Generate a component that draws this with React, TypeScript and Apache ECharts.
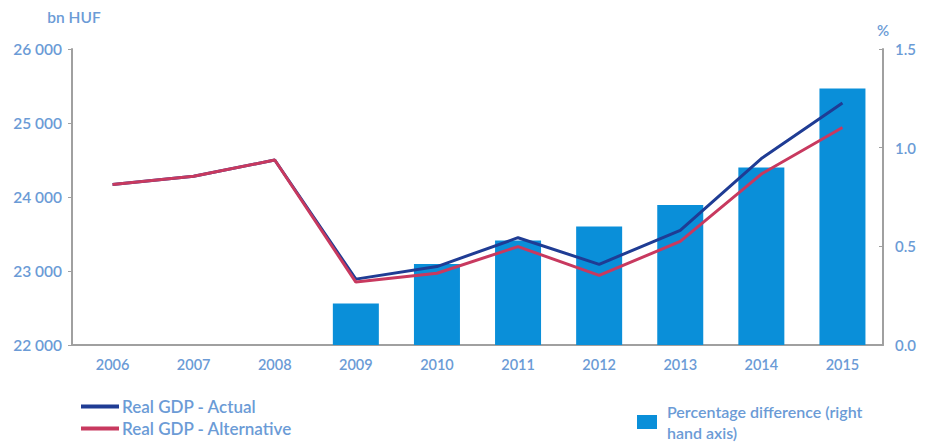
import React, { useEffect, useRef } from "react";
import * as echarts from "echarts";

const years = ["2006", "2007", "2008", "2009", "2010", "2011", "2012", "2013", "2014", "2015"];
const actual = [24170, 24280, 24500, 22890, 23060, 23450, 23090, 23550, 24520, 25270];
const alternative = [24170, 24280, 24500, 22850, 22970, 23330, 22940, 23400, 24310, 24940];
const pctDiff = [null, null, null, 0.21, 0.41, 0.53, 0.6, 0.71, 0.9, 1.3];
const leftTicks = [22000, 23000, 24000, 25000, 26000];

const TXT = "#6b9bd6";
const FONT = "Lato";

export default function App() {
  const ref = useRef<HTMLDivElement>(null);
  useEffect(() => {
    document.body.style.margin = "0";
    const chart = echarts.init(ref.current!, null, { renderer: "svg" });
    chart.setOption({
      animation: false,
      textStyle: { fontFamily: FONT },
      grid: { left: 72, right: 46, top: 49, bottom: 100 },
      legend: [
        {
          data: ["Real GDP - Actual", "Real GDP - Alternative"],
          orient: "vertical",
          left: 76,
          top: 393,
          itemWidth: 38,
          itemHeight: 4,
          itemGap: 5,
          icon: "rect",
          textStyle: { color: TXT, fontSize: 17, fontWeight: 600, fontFamily: FONT, padding: [0, 0, 0, -2] },
        },
        {
          data: ["Percentage difference (right\nhand axis)"],
          left: 632,
          top: 396,
          itemWidth: 20,
          itemHeight: 14,
          icon: "rect",
          textStyle: { color: TXT, fontSize: 16, fontWeight: 600, fontFamily: FONT, lineHeight: 21, padding: [0, 0, 0, 5] },
        },
      ],
      xAxis: {
        type: "category",
        data: years,
        axisLine: { lineStyle: { color: "#a0a0a0", width: 2 } },
        axisTick: { show: false },
        axisLabel: { color: TXT, fontSize: 14.5, fontWeight: 600, margin: 12 },
      },
      yAxis: [
        {
          type: "value",
          min: leftTicks[0],
          max: leftTicks[leftTicks.length - 1],
          interval: 1000,
          name: "bn HUF",
          nameGap: 24,
          nameTextStyle: { color: TXT, fontSize: 15.5, fontWeight: 600, align: "center", padding: [0, 0, 0, 4] },
          axisLine: { show: true, lineStyle: { color: "#a0a0a0", width: 2 } },
          axisTick: { show: true, length: 4, lineStyle: { color: "#a0a0a0" } },
          splitLine: { show: false },
          axisLabel: {
            color: TXT,
            fontSize: 15.5,
            fontWeight: 600,
            margin: 10,
            formatter: (v: number) => String(v).replace(/\B(?=(\d{3})+(?!\d))/g, " "),
          },
        },
        {
          type: "value",
          min: 0,
          max: 1.5,
          interval: 0.5,
          position: "right",
          name: "%",
          nameGap: 12,
          nameTextStyle: { color: TXT, fontSize: 15, fontWeight: 600, align: "center" },
          axisLine: { show: true, lineStyle: { color: "#a0a0a0", width: 2 } },
          axisTick: { show: true, length: 4, inside: true, lineStyle: { color: "#a0a0a0" } },
          splitLine: { show: false },
          axisLabel: {
            color: TXT,
            fontSize: 15,
            fontWeight: 600,
            margin: 12,
            formatter: (v: number) => v.toFixed(1),
          },
        },
      ],
      series: [
        {
          name: "Percentage difference (right\nhand axis)",
          type: "bar",
          yAxisIndex: 1,
          data: pctDiff,
          barWidth: 46,
          itemStyle: { color: "#0a8fd9" },
          z: 1,
        },
        {
          name: "Real GDP - Alternative",
          type: "line",
          data: alternative,
          showSymbol: false,
          symbol: "none",
          lineStyle: { color: "#c8395f", width: 3 },
          itemStyle: { color: "#c8395f" },
          z: 3,
        },
        {
          name: "Real GDP - Actual",
          type: "line",
          data: actual,
          showSymbol: false,
          symbol: "none",
          lineStyle: { color: "#1f3c94", width: 3 },
          itemStyle: { color: "#1f3c94" },
          z: 2,
        },
      ],
    });
    return () => chart.dispose();
  }, []);
  return <div ref={ref} style={{ width: 929, height: 445 }} />;
}
